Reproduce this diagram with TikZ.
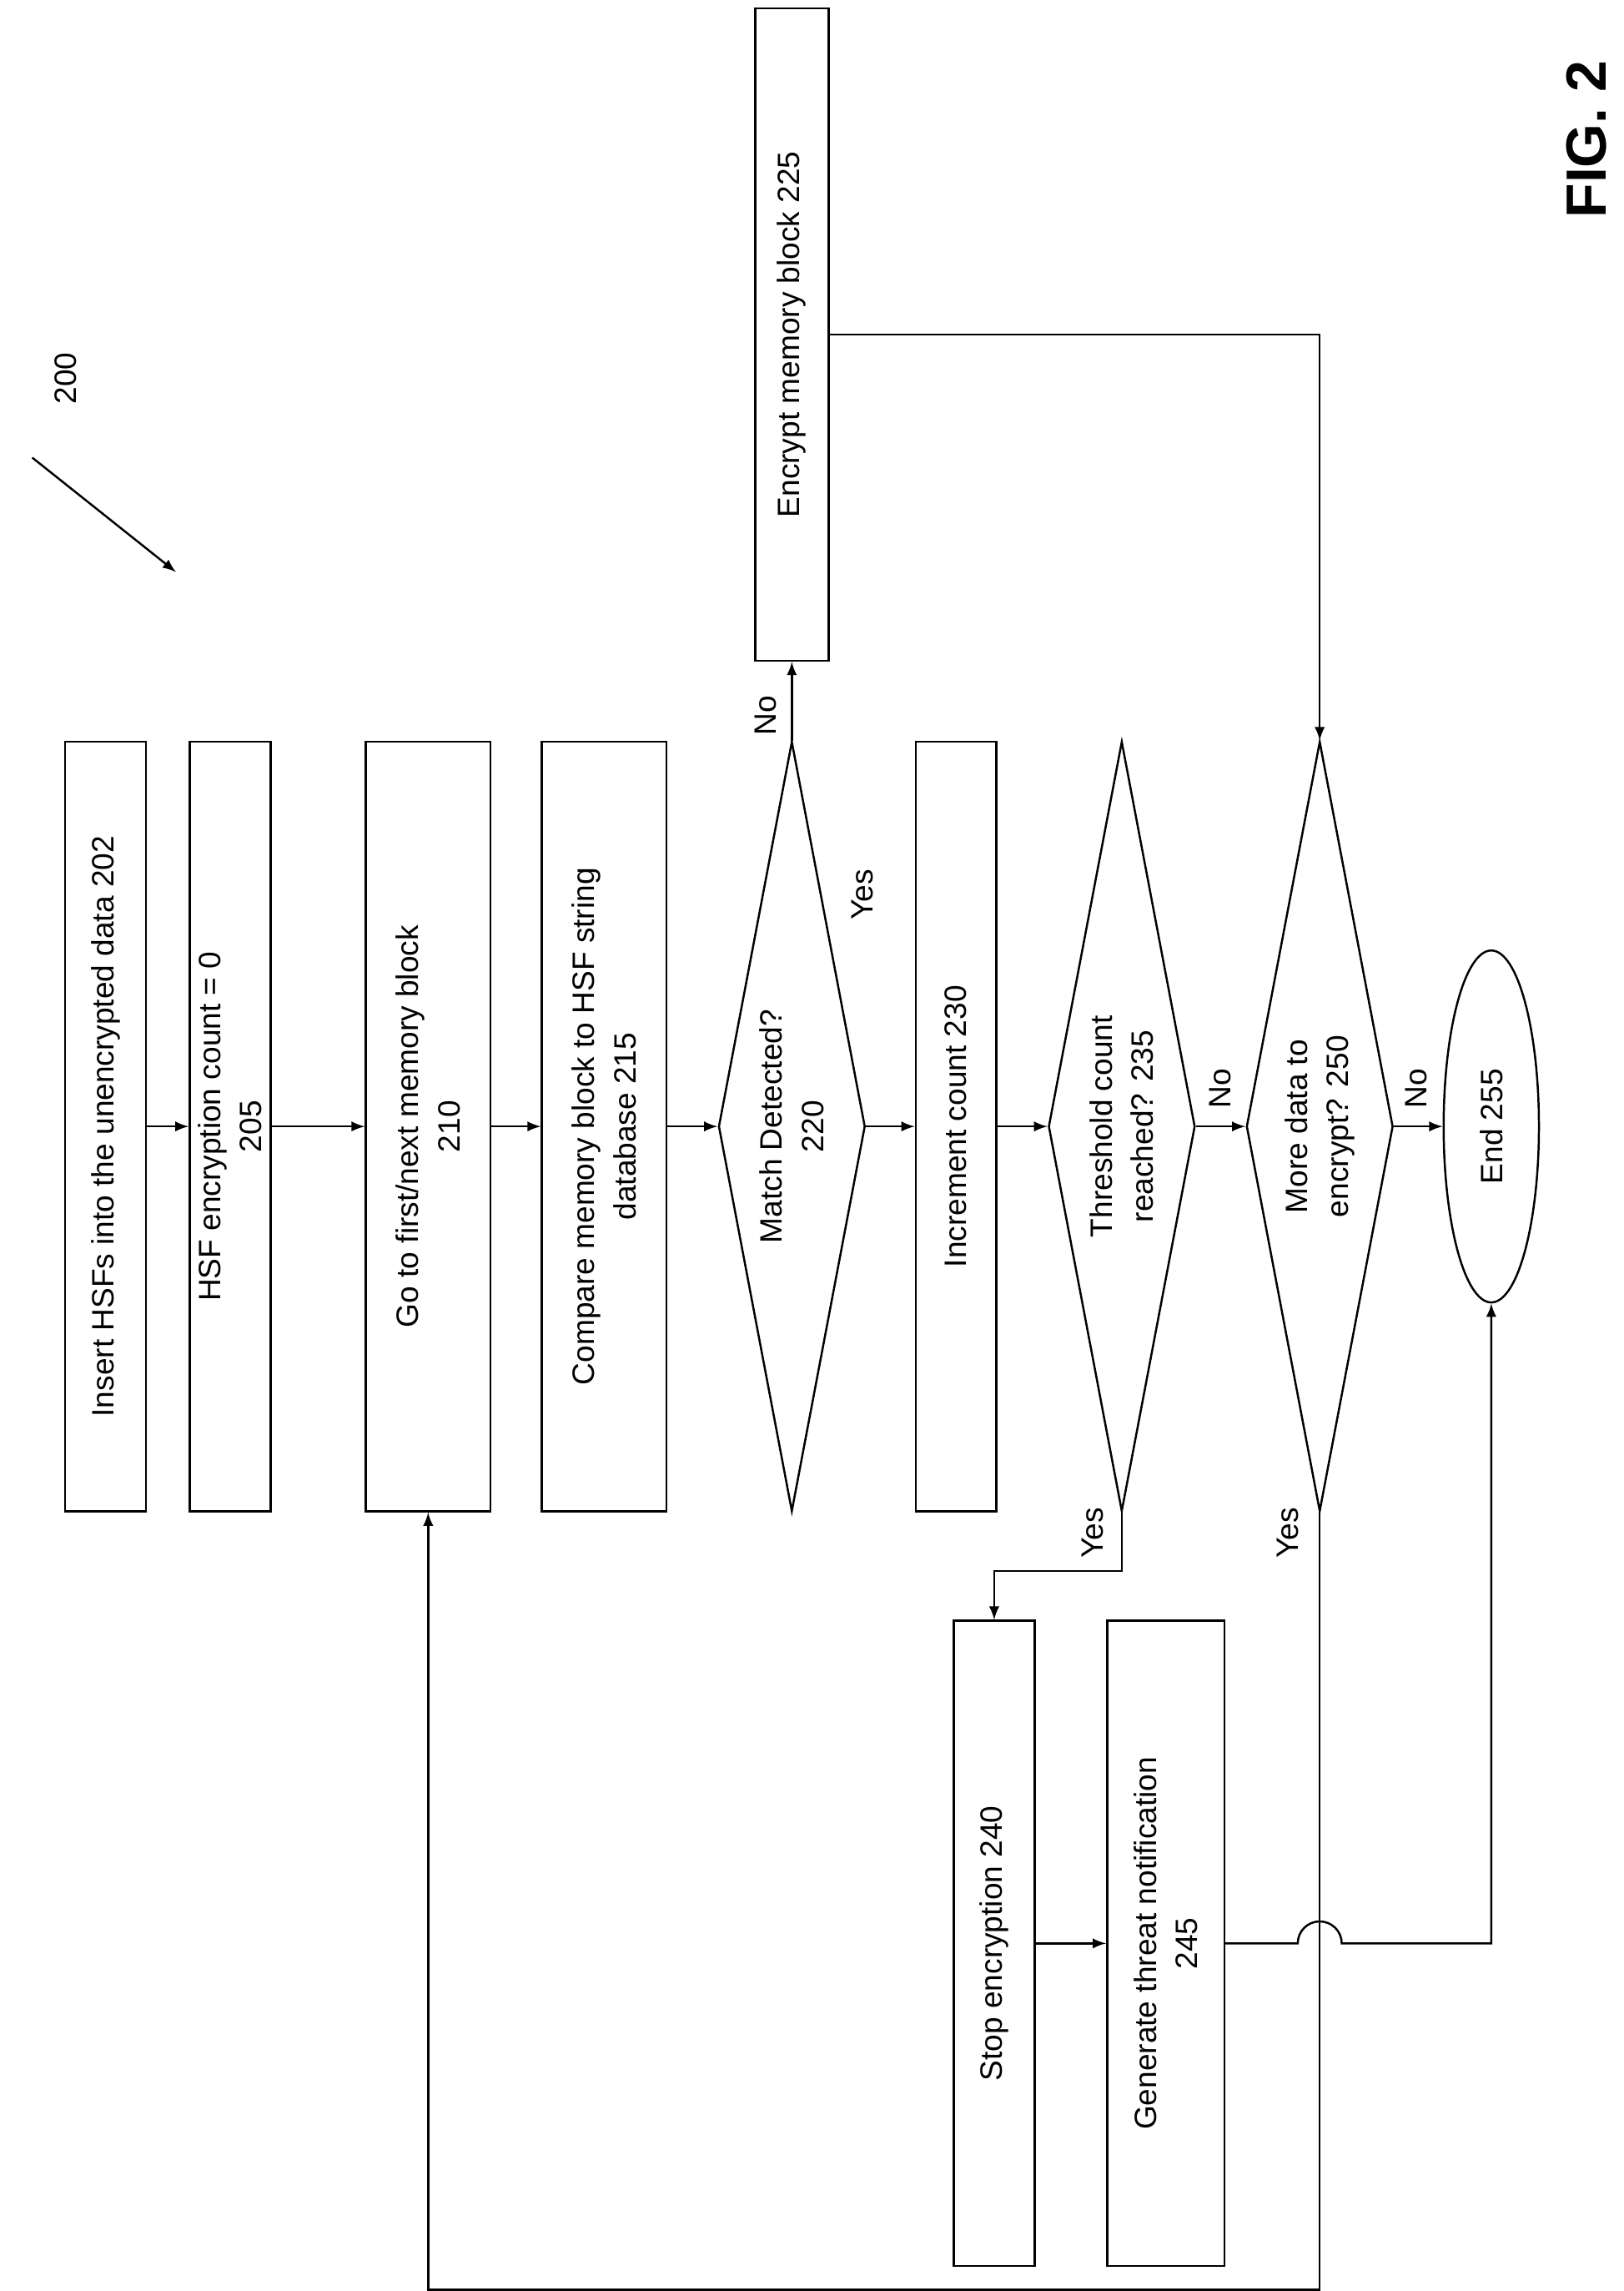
\documentclass[tikz,border=0pt]{standalone}
\usepackage{fontspec}
\setmainfont{Liberation Sans}
\usetikzlibrary{shapes.geometric,calc}

\begin{document}
\begin{tikzpicture}[
    x=0.02cm, y=-0.02cm,
    box/.style={draw, thick, rotate=90, minimum width=10.5cm, align=center, font=\fontsize{12}{16}\selectfont},
    decision/.style={draw, thick, diamond, rotate=90, minimum width=10.5cm, minimum height=2cm, aspect=5.25, inner sep=0pt, align=center, font=\fontsize{12}{16}\selectfont},
    terminal/.style={draw, thick, ellipse, rotate=90, minimum width=4.8cm, minimum height=1.3cm, font=\fontsize{12}{16}\selectfont},
    arr/.style={thick, -latex},
    lbl/.style={rotate=90, font=\fontsize{12}{14}\selectfont}
  ]
  \useasboundingbox (0,0) rectangle (1107,1562);

  % Main column
  \node[box, minimum height=1.1cm] (b202) at (72,768) {Insert HSFs into the unencrypted data 202};
  \node[box, minimum height=1.1cm] (b205) at (157,768) {HSF encryption count = 0\\205};
  \node[box, minimum height=1.7cm] (b210) at (292,768) {Go to first/next memory block\\210};
  \node[box, minimum height=1.7cm] (b215) at (412,768) {Compare memory block to HSF string\\database 215};
  \node[decision] (d220) at (540,768) {Match Detected?\\220};
  \node[box, minimum height=1.1cm] (b230) at (652,768) {Increment count 230};
  \node[decision] (d235) at (765,768) {Threshold count\\reached? 235};
  \node[decision] (d250) at (900,768) {More data to\\encrypt? 250};
  \node[terminal] (e255) at (1017,768) {End 255};

  % Side boxes
  \node[box, minimum width=8.9cm, minimum height=1cm] (b225) at (540,228) {Encrypt memory block 225};
  \node[box, minimum width=8.8cm, minimum height=1.1cm] (b240) at (678,1325) {Stop encryption 240};
  \node[box, minimum width=8.8cm, minimum height=1.6cm] (b245) at (795,1325) {Generate threat notification\\245};

  % Labels
  \node[lbl] (n200) at (45,258) {200};
  \coordinate (p200a) at (22,312);
  \coordinate (p200b) at (120,390);
  \draw[arr] (p200a) -- (p200b);
  \node[rotate=90, font=\bfseries\fontsize{22}{24}\selectfont] (fig) at (1082,95) {FIG. 2};
  \node[lbl] (no220) at (522,488) {No};
  \node[lbl] (yes220) at (588,610) {Yes};
  \node[lbl] (no235) at (832,742) {No};
  \node[lbl] (yes235) at (745,1045) {Yes};
  \node[lbl] (no250) at (966,742) {No};
  \node[lbl] (yes250) at (878,1045) {Yes};

  % Connectors
  \draw[arr] (b202) -- (b205);
  \draw[arr] (b205) -- (b210);
  \draw[arr] (b210) -- (b215);
  \draw[arr] (b215) -- (d220);
  \draw[arr] (d220) -- (b230);
  \draw[arr] (d220.east) -- (b225.west);
  \draw[arr] (b225.south) -| (d250.east);
  \draw[arr] (b230) -- (d235);
  \draw[arr] (d235) -- (d250);
  \draw[arr] (d235.west) -- ++(0,40) -| (b240.east);
  \draw[arr] (b240) -- (b245);
  \draw[arr] (d250) -- (e255);
  \draw[arr] (d250.west) -- ++(0,530) -| (b210.west);
  \draw[arr] (b245.south) -- ($(d250.west |- b245.south)+(-15,0)$)
    arc[start angle=180, end angle=360, radius=15] -| (e255.west);
\end{tikzpicture}
\end{document}
